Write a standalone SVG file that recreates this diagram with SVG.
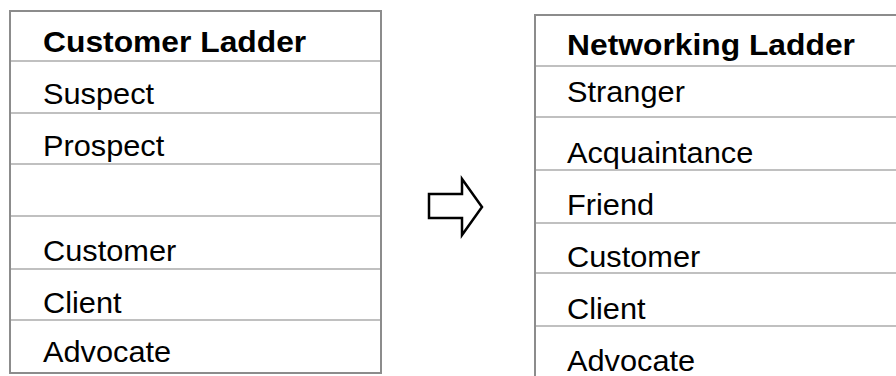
<svg xmlns="http://www.w3.org/2000/svg" width="896" height="376" viewBox="0 0 896 376">
  <style>
    .frame { fill: #ffffff; stroke: #8c8c8c; stroke-width: 2; }
    .rule { stroke: #c0c0c0; stroke-width: 2; }
    .label { font-family: "Liberation Sans", Arial, sans-serif; font-size: 29px; fill: #000000; }
    .title { font-weight: bold; font-size: 30px; }
    .arrow { fill: #ffffff; stroke: #000000; stroke-width: 2.5; stroke-linejoin: miter; }
  </style>

  <!-- Customer ladder table -->
  <g id="customer-ladder">
    <rect class="frame" x="10" y="11" width="371" height="362"/>
    <line class="rule" x1="11" y1="61" x2="380" y2="61"/>
    <line class="rule" x1="11" y1="113" x2="380" y2="113"/>
    <line class="rule" x1="11" y1="164" x2="380" y2="164"/>
    <line class="rule" x1="11" y1="216" x2="380" y2="216"/>
    <line class="rule" x1="11" y1="269" x2="380" y2="269"/>
    <line class="rule" x1="11" y1="320" x2="380" y2="320"/>
    <!-- labels are set slightly wide -->
    <g transform="translate(43 0) scale(1.06 1)">
      <text class="label title" x="0" y="52">Customer Ladder</text>
      <text class="label" x="0" y="104">Suspect</text>
      <text class="label" x="0" y="156">Prospect</text>
      <text class="label" x="0" y="261">Customer</text>
      <text class="label" x="0" y="313">Client</text>
      <text class="label" x="0" y="362">Advocate</text>
    </g>
  </g>

  <!-- Networking ladder table -->
  <g id="networking-ladder">
    <rect class="frame" x="535" y="15" width="380" height="380"/>
    <line class="rule" x1="536" y1="66" x2="896" y2="66"/>
    <line class="rule" x1="536" y1="117" x2="896" y2="117"/>
    <line class="rule" x1="536" y1="170" x2="896" y2="170"/>
    <line class="rule" x1="536" y1="223" x2="896" y2="223"/>
    <line class="rule" x1="536" y1="273" x2="896" y2="273"/>
    <line class="rule" x1="536" y1="326" x2="896" y2="326"/>
    <g transform="translate(567 0) scale(1.06 1)">
      <text class="label title" x="0" y="55">Networking Ladder</text>
      <text class="label" x="0" y="102">Stranger</text>
      <text class="label" x="0" y="163">Acquaintance</text>
      <text class="label" x="0" y="215">Friend</text>
      <text class="label" x="0" y="267">Customer</text>
      <text class="label" x="0" y="319">Client</text>
      <text class="label" x="0" y="371">Advocate</text>
    </g>
  </g>

  <!-- Block arrow between the two ladders -->
  <g id="connectors">
    <path class="arrow" d="M429,194 L462,194 L462,179 L482,207 L462,235 L462,218 L429,218 Z"/>
  </g>
</svg>
